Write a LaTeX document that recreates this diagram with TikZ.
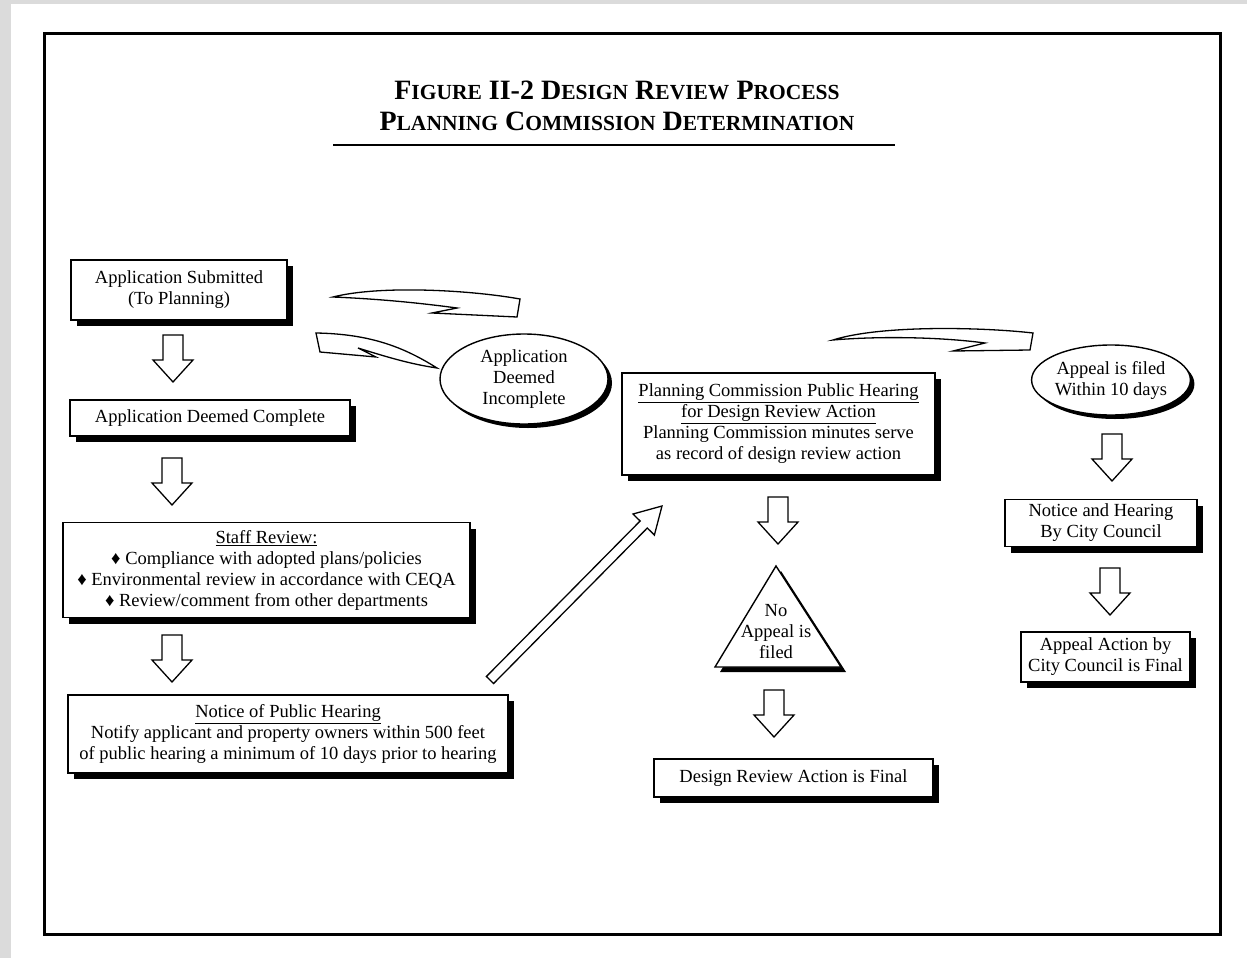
\documentclass[tikz,border=0pt]{standalone}
\usepackage{fontspec}
\setmainfont{Liberation Serif}
\usetikzlibrary{shapes.geometric,shadows,calc}
\newcommand\bodyfont{\fontsize{18.5}{21}\selectfont}
\newcommand\titlefont{\bfseries\fontsize{28}{31}\selectfont}
\newcommand\scw[2]{#1{\fontsize{21.5}{31}\selectfont #2}}
\newcommand\blockdown[1]{\draw[blk] (#1) ++(-10,0) -- ++(0,25) -- ++(-10,0) -- ++(20,22) -- ++(20,-22) -- ++(-10,0) -- ++(0,-25) -- cycle;}
\tikzset{
  sh/.style={drop shadow={shadow xshift=#1pt, shadow yshift=-#1pt, fill=black, opacity=1}},
  box/.style={draw, line width=1.4pt, fill=white, align=center, inner sep=0pt, font=\bodyfont, sh=6},
  oval/.style={ellipse, draw, line width=1.4pt, fill=white, align=center, inner sep=0pt, font=\bodyfont, sh=4},
  blk/.style={draw, line width=1.3pt, fill=white, line join=miter},
  plain/.style={align=center, inner sep=0pt, font=\bodyfont}
}
\begin{document}
\begin{tikzpicture}[x=1pt,y=-1pt]
\useasboundingbox (0,0) rectangle (1247,958);
\fill[black!14!white] (0,0) rectangle (1247,958);
\fill[white] (11,4) rectangle (1247,958);
\draw[line width=3pt] (44,34) rectangle (1220,934);

% title
\node[align=center, inner sep=0pt, font=\titlefont] (title) at (617,106)
  {\scw{F}{IGURE} II-2 \scw{D}{ESIGN} \scw{R}{EVIEW} \scw{P}{ROCESS}\\
   \scw{P}{LANNING} \scw{C}{OMMISSION} \scw{D}{ETERMINATION}};
\draw[line width=2pt] (333,145) coordinate (ul1) -- (895,145) coordinate (ul2);

% left column
\node[box, minimum width=216, minimum height=60] (submitted) at (179,290)
  {Application Submitted\\(To Planning)};
\node[box, minimum width=280, minimum height=36] (complete) at (210,418)
  {Application Deemed Complete};
\node[box, minimum width=407, minimum height=95] (staff) at (266.5,570)
  {\underline{Staff Review:}\\
   ♦ Compliance with adopted plans/policies\\
   ♦ Environmental review in accordance with CEQA\\
   ♦ Review/comment from other departments};
\node[box, minimum width=440, minimum height=78] (notice) at (288,734)
  {\underline{Notice of Public Hearing}\\
   Notify applicant and property owners within 500 feet\\
   of public hearing a minimum of 10 days prior to hearing};

\coordinate (d1) at (173,335);
\coordinate (d2) at (172,458);
\coordinate (d3) at (172,635);
\blockdown{d1}
\blockdown{d2}
\blockdown{d3}

% incomplete loop
\node[oval, minimum width=168, minimum height=90] (incomplete) at (524,379)
  {Application\\Deemed\\Incomplete};
\draw[blk] (333,297) .. controls (380,285) and (470,290) .. (520,299)
  -- (517,317) -- (432,313) -- (457,308)
  .. controls (420,303) and (380,299) .. cycle;
\draw[blk] (316,333) -- (320,352) -- (376,357) -- (358,348)
  .. controls (387,357) and (410,364) .. (437,368)
  .. controls (405,348) and (372,334) .. cycle;

% diagonal arrow to planning commission
\draw[blk] (486.4,676.5) -- (640.1,521.0) -- (633.0,514.0) -- (662,506)
  -- (654.4,535.0) -- (647.3,528.0) -- (493.6,683.5) -- cycle;

% middle column
\node[box, minimum width=313, minimum height=102] (pc) at (778.5,424)
  {\underline{Planning Commission Public Hearing}\\
   \underline{for Design Review Action}\\
   Planning Commission minutes serve\\
   as record of design review action};
\coordinate (d4) at (778,497);
\blockdown{d4}
\draw[blk, line width=1.4pt, sh=5] (776,566) -- (841,667) -- (715,667) -- cycle;
\node[plain] (noappeal) at (776,632) {No\\Appeal is\\filed};
\coordinate (d5) at (774,690);
\blockdown{d5}
\node[box, minimum width=279, minimum height=38] (final) at (793.5,778)
  {Design Review Action is Final};

% appeal branch
\draw[blk] (833,340) .. controls (880,325) and (980,327) .. (1033,333)
  -- (1030,350) -- (953,351) -- (985,343)
  .. controls (940,337) and (880,336) .. cycle;
\node[oval, minimum width=142, minimum height=70] (appeal) at (1111,380)
  {Appeal is filed\\Within 10 days};
\coordinate (d6) at (1112,434);
\blockdown{d6}
\node[box, minimum width=192, minimum height=47] (cc) at (1101,523)
  {Notice and Hearing\\By City Council};
\coordinate (d7) at (1110,568);
\blockdown{d7}
\node[box, minimum width=169, minimum height=50] (ccfinal) at (1105.5,657)
  {Appeal Action by\\City Council is Final};
\end{tikzpicture}
\end{document}
